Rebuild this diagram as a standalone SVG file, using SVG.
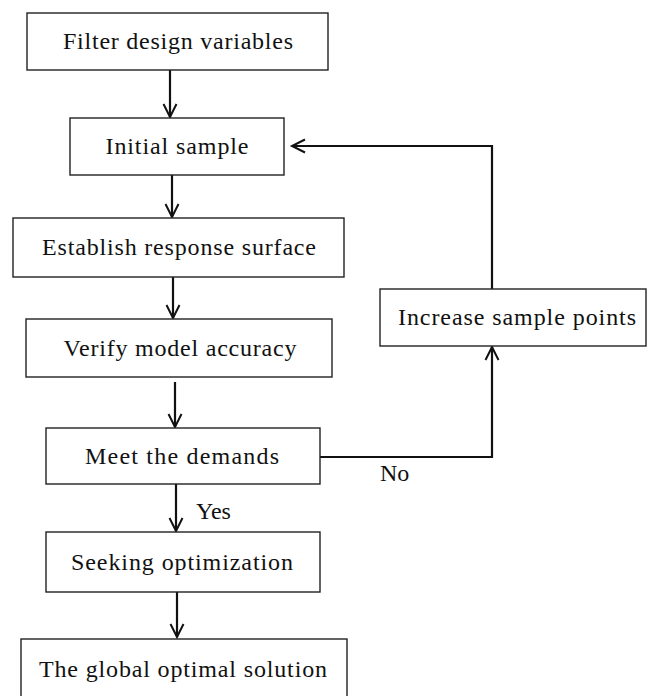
<svg xmlns="http://www.w3.org/2000/svg" width="648" height="696" viewBox="0 0 648 696">
<defs>
<style>
.box{fill:#fff;stroke:#222;stroke-width:1.4}
.t{font-family:"Liberation Serif","DejaVu Serif",serif;font-size:24px;fill:#111;text-anchor:middle}
.lbl{font-family:"Liberation Serif","DejaVu Serif",serif;font-size:24px;fill:#111}
.c{fill:none;stroke:#111;stroke-width:2.2}
</style>
<marker id="ah" markerUnits="userSpaceOnUse" markerWidth="18" markerHeight="18" viewBox="0 0 18 18" refX="15" refY="9" orient="auto">
<path d="M2,2.5 L15,9 L2,15.5" fill="none" stroke="#111" stroke-width="2"/>
</marker>
</defs>
<rect width="648" height="696" fill="#fff"/>
<g id="connectors">
<line class="c" x1="170" y1="70" x2="170" y2="117" marker-end="url(#ah)"/>
<line class="c" x1="172" y1="175" x2="172" y2="217" marker-end="url(#ah)"/>
<line class="c" x1="173" y1="277" x2="173" y2="318" marker-end="url(#ah)"/>
<line class="c" x1="175" y1="382" x2="175" y2="427" marker-end="url(#ah)"/>
<line class="c" x1="176" y1="484" x2="176" y2="531" marker-end="url(#ah)"/>
<line class="c" x1="177" y1="592" x2="177" y2="637" marker-end="url(#ah)"/>
<polyline class="c" points="320,457 492,457 492,347" marker-end="url(#ah)"/>
<polyline class="c" points="492,289 492,146 292,146" marker-end="url(#ah)"/>
<text class="lbl" x="196" y="519">Yes</text>
<text class="lbl" x="380" y="481">No</text>
</g>
<g id="n1"><rect class="box" x="27" y="13" width="301" height="57"/><text class="t" x="178" y="49" textLength="230">Filter design variables</text></g>
<g id="n2"><rect class="box" x="70" y="118" width="214" height="57"/><text class="t" x="177" y="154" textLength="143">Initial sample</text></g>
<g id="n3"><rect class="box" x="13" y="218" width="331" height="59"/><text class="t" x="179" y="255" textLength="274">Establish response surface</text></g>
<g id="n4"><rect class="box" x="26" y="319" width="306" height="58"/><text class="t" x="180" y="356" textLength="233">Verify model accuracy</text></g>
<g id="n5"><rect class="box" x="46" y="428" width="274" height="56"/><text class="t" x="182" y="464" textLength="194">Meet the demands</text></g>
<g id="n6"><rect class="box" x="46" y="532" width="274" height="60"/><text class="t" x="182" y="570" textLength="222">Seeking optimization</text></g>
<g id="n7"><rect class="box" x="21" y="639" width="326" height="70"/><text class="t" x="183" y="677" textLength="288">The global optimal solution</text></g>
<g id="n8"><rect class="box" x="380" y="289" width="266" height="57"/><text class="t" x="517" y="325" textLength="238">Increase sample points</text></g>
</svg>
